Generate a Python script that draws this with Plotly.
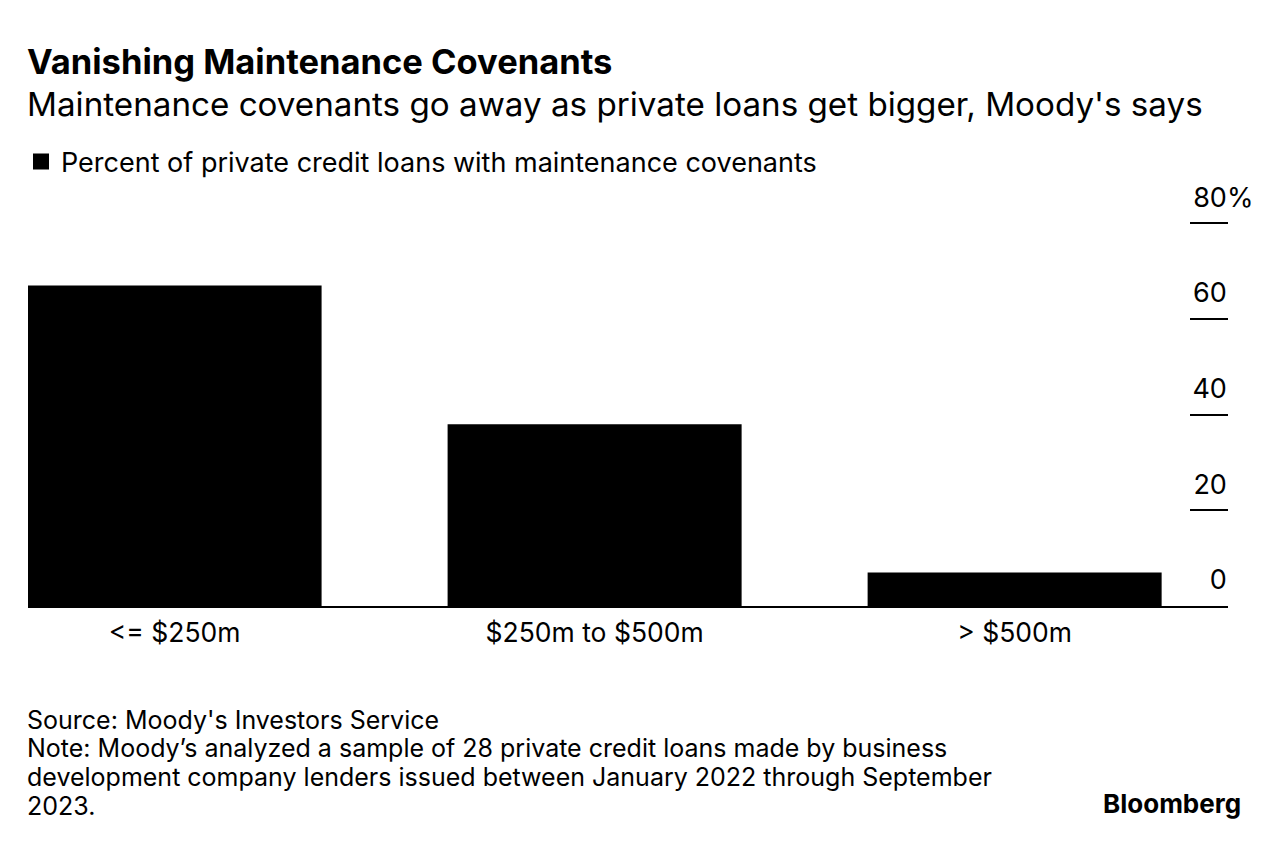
import plotly.graph_objects as go

categories = ["<= $250m", "$250m to $500m", "> $500m"]
values = [67, 38, 7]
y_ticks = [0, 20, 40, 60, 80]
y_tick_labels = ["0", "20", "40", "60", "80%"]
series_name = "Percent of private credit loans with maintenance covenants"
title = "Vanishing Maintenance Covenants"
subtitle = "Maintenance covenants go away as private loans get bigger, Moody's says"
source_lines = [
    "Source: Moody's Investors Service",
    "Note: Moody’s analyzed a sample of 28 private credit loans made by business",
    "development company lenders issued between January 2022 through September",
    "2023.",
]

# page body has an 8px margin; work in screen pixels and convert
OFF = 8
W, H = 1272, 840
ML, MR, MT, MB = 20, 52, 158, 242
FONT = "Inter"
PH = H - MT - MB
PW = W - ML - MR


def py(ys):
    return (H - MB - (ys - OFF)) / PH


def px(xs):
    return ((xs - OFF) - ML) / PW


hidden = "<span style='color:rgba(0,0,0,0)'>%</span>"
tick_text = [t if t.endswith("%") else t + hidden for t in y_tick_labels]

fig = go.Figure()
fig.add_trace(go.Bar(
    x=list(range(len(categories))), y=values, name=series_name,
    marker=dict(color="black", line=dict(width=0)), width=0.7,
    showlegend=False,
))
fig.add_trace(go.Scatter(
    x=[None], y=[None], mode="markers", name=series_name,
    marker=dict(symbol="square", size=18, color="black"), showlegend=True,
))

line_y = [720, 748, 777, 806]
annotations = [
    dict(text="<b>" + title + "</b>", x=px(25), y=py(61), xref="paper", yref="paper",
         xanchor="left", yanchor="middle", showarrow=False, font=dict(size=34.5)),
    dict(text=subtitle, x=px(25), y=py(104), xref="paper", yref="paper",
         xanchor="left", yanchor="middle", showarrow=False, font=dict(size=33.2)),
    dict(text="<b>Bloomberg</b>", x=px(1243), y=py(803), xref="paper", yref="paper",
         xanchor="right", yanchor="middle", showarrow=False, font=dict(size=26)),
]
for txt, yy in zip(source_lines, line_y):
    annotations.append(dict(text=txt, x=px(25), y=py(yy), xref="paper", yref="paper",
                            xanchor="left", yanchor="middle", showarrow=False,
                            font=dict(size=25)))

fig.update_layout(
    width=W, height=H,
    margin=dict(l=ML, r=MR, t=MT, b=MB),
    paper_bgcolor="white", plot_bgcolor="white",
    font=dict(family=FONT, color="black", size=24),
    showlegend=True,
    legend=dict(x=px(21), y=py(162), xanchor="left", yanchor="middle",
                orientation="h", font=dict(size=27, family=FONT, color="black"),
                bgcolor="rgba(0,0,0,0)", itemclick=False, itemdoubleclick=False),
    xaxis=dict(
        range=[-0.349, 2.508], tickvals=list(range(len(categories))), ticktext=categories,
        showline=True, linecolor="black", linewidth=1.5, ticks="",
        showgrid=False, zeroline=False, tickfont=dict(size=26.5, color="black"),
        ticklabelstandoff=2,
    ),
    yaxis=dict(
        range=[0, 92], side="right", tickvals=y_ticks, ticktext=tick_text,
        ticks="inside", ticklen=38, tickcolor="black", tickwidth=1.5,
        ticklabelposition="inside", ticklabelshift=-26, ticklabelstandoff=-61,
        showgrid=False, zeroline=False, showline=False,
        tickfont=dict(size=27, color="black"),
    ),
    annotations=annotations,
)

fig.write_html("out.html")
